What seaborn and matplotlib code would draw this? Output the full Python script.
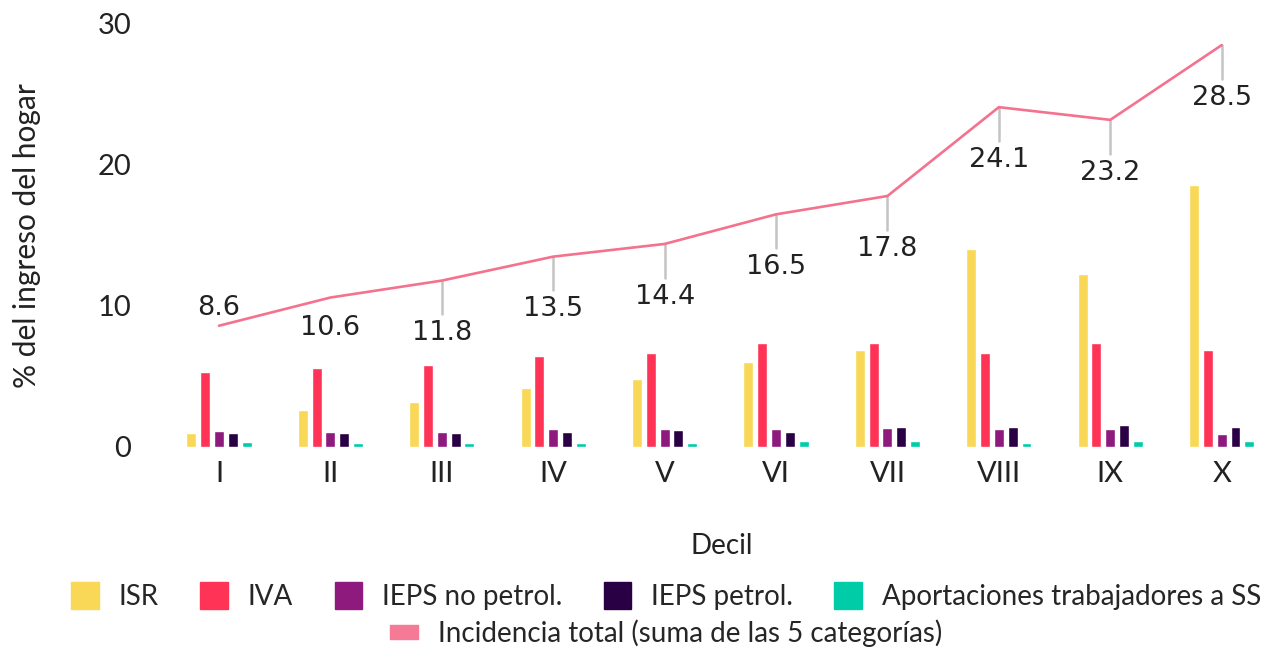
import numpy as np
import pandas as pd
import matplotlib
matplotlib.use("Agg")
import matplotlib.pyplot as plt
import matplotlib.patches as mpatches
import seaborn as sns

# Data
deciles = ["I", "II", "III", "IV", "V", "VI", "VII", "VIII", "IX", "X"]
isr = [1.0, 2.6, 3.2, 4.2, 4.8, 6.05, 6.9, 14.05, 12.25, 18.6]
iva = [5.35, 5.6, 5.8, 6.45, 6.65, 7.4, 7.4, 6.7, 7.4, 6.85]
ieps_no_petrol = [1.1, 1.05, 1.05, 1.25, 1.25, 1.25, 1.35, 1.25, 1.25, 0.9]
ieps_petrol = [1.0, 1.0, 1.0, 1.05, 1.2, 1.05, 1.45, 1.45, 1.55, 1.45]
aportaciones = [0.35, 0.25, 0.3, 0.3, 0.25, 0.45, 0.4, 0.3, 0.4, 0.4]
total = [8.6, 10.6, 11.8, 13.5, 14.4, 16.5, 17.8, 24.1, 23.2, 28.5]

series_names = ["ISR", "IVA", "IEPS no petrol.", "IEPS petrol.",
                "Aportaciones trabajadores a SS"]
colors = ["#F9D857", "#FF3355", "#8E1A7E", "#2A0044", "#00CCA8"]
line_color = "#F4728E"

df = pd.DataFrame({
    "Decil": deciles * 5,
    "Categoria": np.repeat(series_names, len(deciles)),
    "valor": isr + iva + ieps_no_petrol + ieps_petrol + aportaciones,
})

sns.set_theme(style="white")
plt.rcParams["font.family"] = ["Lato", "DejaVu Sans"]

fig = plt.figure(figsize=(12.64, 6.48), dpi=100)
ax = fig.add_axes([0.1336, 0.3102, 0.8664, 0.6528])

sns.barplot(data=df, x="Decil", y="valor", hue="Categoria", order=deciles,
            hue_order=series_names, palette=colors, width=0.62, gap=0.28,
            legend=False, ax=ax, saturation=1)

x = np.arange(len(deciles))
sns.lineplot(x=x, y=total, color=line_color, linewidth=1.9, ax=ax, sort=False)

# value labels with leader ticks
lab_kw = dict(textcoords="offset points", ha="center", va="center",
              fontsize=19.5, family="DejaVu Sans", color="#222222")
for i, v in enumerate(total):
    if i == 0:
        ax.annotate(f"{v}", (i, v), xytext=(0, 13), **lab_kw)
    elif i == 1:
        ax.annotate(f"{v}", (i, v), xytext=(0, -22), **lab_kw)
    else:
        ax.plot([i, i], [v, v - 2.4], color="#C4C4C4", linewidth=1.8, zorder=1)
        ax.annotate(f"{v}", (i, v), xytext=(0, -38), **lab_kw)

ax.set_xlim(-0.45, 9.38)
ax.set_ylim(0, 30)
ax.set_yticks([0, 10, 20, 30])
ax.tick_params(axis="y", labelsize=21, pad=27, length=0, colors="#222222")
ax.tick_params(axis="x", labelsize=21, pad=10, length=0, colors="#222222")
sns.despine(ax=ax, left=True, bottom=True)
ax.grid(False)
ax.set_xlabel("Decil", fontsize=20, color="#222222")
ax.set_ylabel("% del ingreso del hogar", fontsize=21.5, color="#222222")
ax.xaxis.set_label_coords(0.505, -0.203)
ax.yaxis.set_label_coords(-0.117, 0.5)

handles = [mpatches.Patch(color=c, label=n) for c, n in zip(colors, series_names)]
fig.legend(handles=handles, loc="center", bbox_to_anchor=(0.527, 0.080),
           ncol=5, frameon=False, fontsize=20, handlelength=1.0,
           handleheight=1.1, handletextpad=0.7, columnspacing=1.5)
line_handle = [mpatches.Patch(color="#F47A95",
                              label="Incidencia total (suma de las 5 categorías)")]
fig.legend(handles=line_handle, loc="center", bbox_to_anchor=(0.527, 0.023),
           frameon=False, fontsize=20, handlelength=1.0, handleheight=0.45,
           handletextpad=0.7)

fig.savefig("out.png", dpi=100)
